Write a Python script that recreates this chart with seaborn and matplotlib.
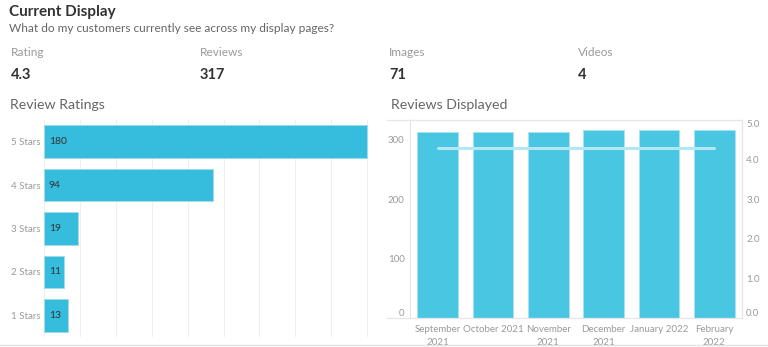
import matplotlib
matplotlib.use("Agg")
import matplotlib.pyplot as plt
import seaborn as sns
import numpy as np
import pandas as pd

# ---- data ----
star_labels = ["5 Stars", "4 Stars", "3 Stars", "2 Stars", "1 Stars"]
star_counts = [180, 94, 19, 11, 13]

months = ["September\n2021", "October 2021", "November\n2021",
          "December\n2021", "January 2022", "February\n2022"]
reviews_displayed = [312, 313, 313, 317, 317, 317]
avg_rating = [4.3, 4.3, 4.3, 4.3, 4.3, 4.3]

kpi_names = ["Rating", "Reviews", "Images", "Videos"]
kpi_values = ["4.3", "317", "71", "4"]

# ---- style ----
sns.set_theme(style="white")
plt.rcParams["font.family"] = ["Lato", "DejaVu Sans"]

W, H = 768, 347
fig = plt.figure(figsize=(W / 100, H / 100), dpi=100)
fig.patch.set_facecolor("white")


def px(x, y):
    return x / W, 1 - y / H


def ftext(x, y, s, **kw):
    fx, fy = px(x, y)
    fig.text(fx, fy, s, va="center", ha="left", **kw)


ftext(9, 12, "Current Display", fontsize=11, fontweight="bold", color="#333333")
ftext(9, 29, "What do my customers currently see across my display pages?",
      fontsize=8.6, color="#666666")
kpi_x = [11, 200, 389, 578]
for xx, name, val in zip(kpi_x, kpi_names, kpi_values):
    ftext(xx, 53, name, fontsize=8.6, color="#9a9a9a")
    ftext(xx, 75, val, fontsize=10.5, fontweight="bold", color="#333333")
ftext(10, 105, "Review Ratings", fontsize=10.2, color="#666666")
ftext(391, 105, "Reviews Displayed", fontsize=10.2, color="#666666")

# bottom separator line
fig.add_artist(plt.Line2D([0, 1], [1 - 345 / H, 1 - 345 / H],
                          transform=fig.transFigure, color="#e2e2e2", lw=1))

# ---- left chart: review ratings ----
l, r, t, b = 44.3, 367.8, 120, 337
axL = fig.add_axes([l / W, 1 - b / H, (r - l) / W, (b - t) / H])
df_l = pd.DataFrame({"stars": star_labels, "count": star_counts})
sns.barplot(data=df_l, x="count", y="stars", orient="h", color="#36bcdc",
            width=0.75, ax=axL, edgecolor="#9fdcec", linewidth=0.7,
            saturation=1)
axL.set_xlim(0, 180.5)
axL.set_xticks(np.arange(0, 181, 20))
axL.xaxis.grid(True, color="#efefef", lw=0.8)
axL.set_axisbelow(True)
axL.set_xticklabels([])
axL.tick_params(axis="x", length=0)
axL.tick_params(axis="y", length=0, labelsize=7, labelcolor="#9a9a9a", pad=2.5)
axL.set_xlabel("")
axL.set_ylabel("")
for s in axL.spines.values():
    s.set_visible(False)
for i, v in enumerate(star_counts):
    axL.annotate(str(v), xy=(0, i), xytext=(3.2, 0), textcoords="offset points",
                 va="center", ha="left", fontsize=7.5, color="#333333")

# ---- right chart: reviews displayed ----
l, r, t, b = 410, 742, 120, 318
axR = fig.add_axes([l / W, 1 - b / H, (r - l) / W, (b - t) / H])
df_r = pd.DataFrame({"month": months, "reviews": reviews_displayed,
                     "rating": avg_rating})
sns.barplot(data=df_r, x="month", y="reviews", color="#48c6e2", width=0.74,
            ax=axR, edgecolor="#a8e3f1", linewidth=0.7, saturation=1)
axR.set_xlim(-0.5, 5.5)
axR.set_ylim(0, 333)
axR.set_yticks([0, 100, 200, 300])
axR.set_xlabel("")
axR.set_ylabel("")
axR.tick_params(axis="y", length=0, labelsize=7, labelcolor="#9a9a9a", pad=4)
axR.tick_params(axis="x", length=0, labelsize=7, labelcolor="#9a9a9a", pad=5)
for lab in axR.get_xticklabels():
    lab.set_linespacing(1.6)
for sname, sp in axR.spines.items():
    sp.set_color("#e6e6e6")
    sp.set_linewidth(0.9)
axR.spines["right"].set_visible(False)
axR.yaxis.get_ticklabels()[0].set_va("bottom")

axR2 = axR.twinx()
sns.lineplot(data=df_r, x="month", y="rating", ax=axR2, color="#b5e6f3", lw=2.2)
axR2.set_ylim(0, 5.0)
axR2.set_yticks([0, 1, 2, 3, 4, 5])
axR2.set_yticklabels([f"{v:.1f}" for v in [0, 1, 2, 3, 4, 5]])
axR2.set_ylabel("")
axR2.tick_params(axis="y", length=0, labelsize=7, labelcolor="#9a9a9a", pad=3)
for sname, sp in axR2.spines.items():
    sp.set_visible(sname == "right")
    sp.set_color("#e6e6e6")
    sp.set_linewidth(0.9)
labs = axR2.yaxis.get_ticklabels()
labs[0].set_va("bottom")
labs[-1].set_va("top")

# extend bottom and top axis lines slightly to the left like the reference
for yy in (120, 318):
    fig.add_artist(plt.Line2D([387 / W, 410 / W], [1 - yy / H, 1 - yy / H],
                              transform=fig.transFigure, color="#e6e6e6", lw=0.9))

fig.savefig("out.png", dpi=100, facecolor="white")
